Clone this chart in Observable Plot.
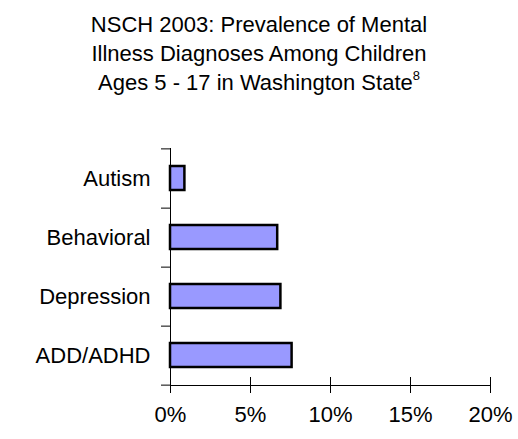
<!DOCTYPE html>
<html>
<head>
<meta charset="utf-8">
<script src="https://cdn.jsdelivr.net/npm/d3@7"></script>
<script src="https://cdn.jsdelivr.net/npm/@observablehq/plot@0.6"></script>
<style>
  body { margin: 0; background: #fff; font-family: "Liberation Sans", Arial, sans-serif; }
  #title { width: 518px; text-align: center; font-size: 22px; line-height: 29px; padding-top: 10px; height: 90px; color: #000; }
  #title sup { font-size: 13px; vertical-align: 10px; line-height: 0; }
</style>
</head>
<body>
<div id="title">NSCH 2003: Prevalence of Mental<br>Illness Diagnoses Among Children<br>Ages 5 - 17 in Washington State<sup>8</sup></div>
<div id="chart"></div>
<script>
const categories = ["Autism", "Behavioral", "Depression", "ADD/ADHD"];
const values = [0.009, 0.067, 0.069, 0.076];
const xTicks = [0, 0.05, 0.10, 0.15, 0.20];

const data = categories.map((c, i) => ({category: c, value: values[i]}));

const W = 518, H = 339, mT = 48, mB = 54, mL = 170, mR = 28;
const step = (H - mT - mB) / categories.length;

const chart = Plot.plot({
  width: W, height: H,
  marginTop: mT, marginBottom: mB, marginLeft: mL, marginRight: mR,
  style: {fontFamily: '"Liberation Sans", Arial, sans-serif', fontSize: "22px", color: "#000", background: "#fff", overflow: "visible"},
  x: {domain: [0, 0.2], label: null},
  y: {domain: categories, paddingInner: 0.59, paddingOuter: 0.295, label: null},
  marks: [
    Plot.barX(data, {x: "value", y: "category", fill: "#9999FF", stroke: "#000", strokeWidth: 2.5}),
    // category labels
    Plot.axisY({tickSize: 0, tickPadding: 20, fontSize: 22, stroke: "none", label: null}),
    // band boundary ticks (left of axis)
    Plot.axisY({ticks: categories, tickSize: 9, dy: step / 2, tickFormat: () => "", stroke: "#000", label: null}),
    Plot.axisY({ticks: categories.slice(0, 1), tickSize: 9, dy: -step / 2, tickFormat: () => "", stroke: "#000", label: null}),
    // x axis ticks below and above
    Plot.axisX({ticks: xTicks, tickSize: 8, tickPadding: 13, tickFormat: d => Math.round(d * 100) + "%", fontSize: 22, stroke: "#000", label: null}),
    Plot.axisX({ticks: xTicks, tickSize: 8, dy: -8, tickFormat: () => "", stroke: "#000", label: null}),
    Plot.frame({anchor: "left", stroke: "#000"}),
    Plot.frame({anchor: "bottom", stroke: "#000"})
  ]
});
document.getElementById("chart").appendChild(chart);
</script>
</body>
</html>
